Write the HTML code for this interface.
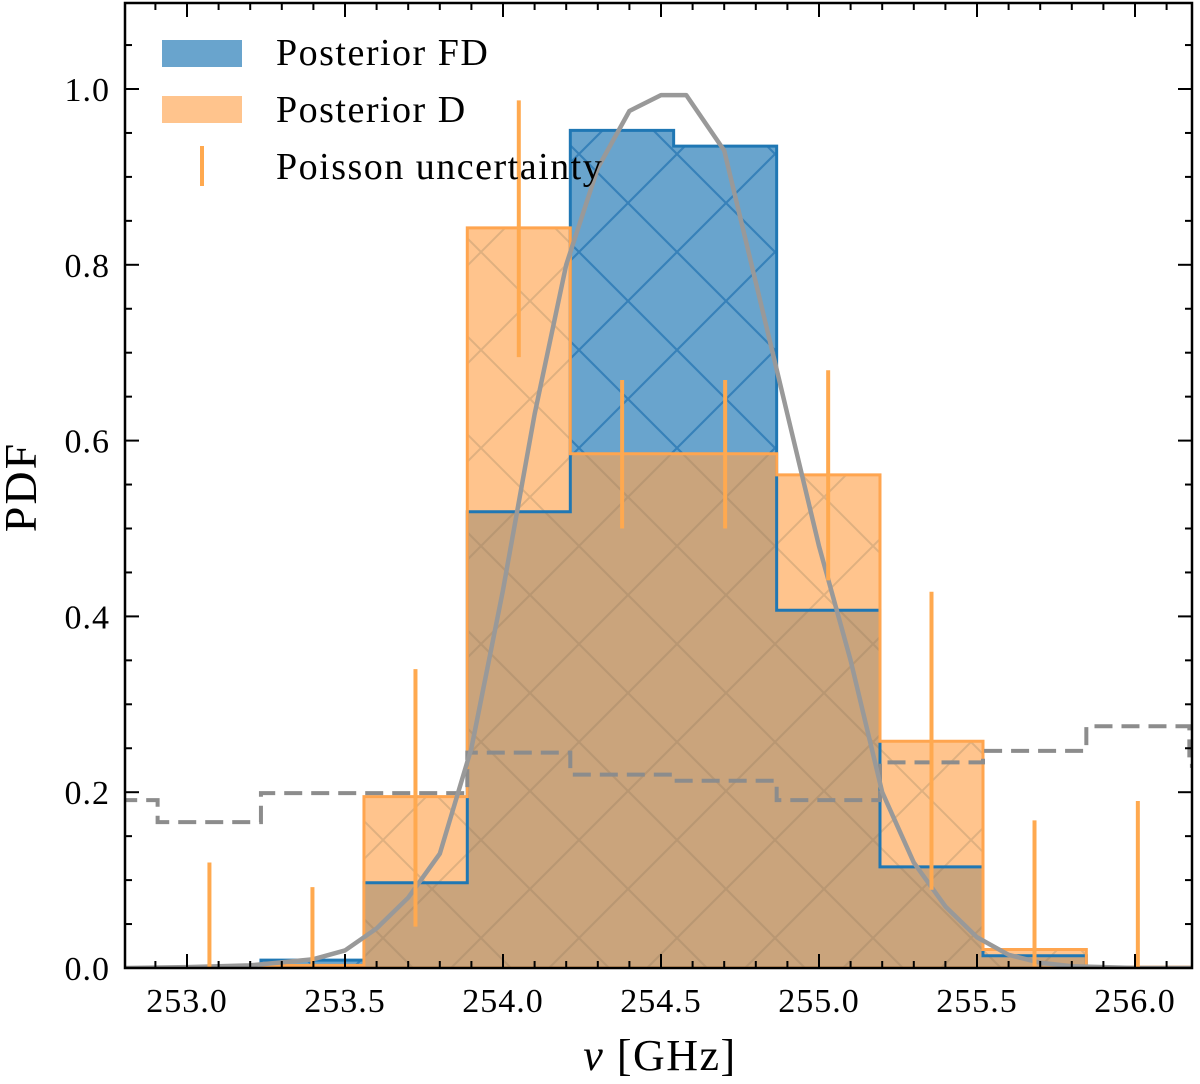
<!DOCTYPE html>
<html><head><meta charset="utf-8">
<style>
html,body{margin:0;padding:0;background:#fff;}
svg{display:block;}
text{font-family:"Liberation Serif","DejaVu Serif",serif;fill:#000;}
</style></head>
<body>
<svg id="chart" width="1200" height="1084" viewBox="0 0 1200 1084" xmlns="http://www.w3.org/2000/svg">
<defs>
<pattern id="hatchBlue" patternUnits="userSpaceOnUse" width="98" height="98" x="0" y="0" patternTransform="translate(40,7)">
<path d="M0,0 L98,98 M98,0 L0,98" stroke="#2a78b4" stroke-width="2.2" stroke-opacity="0.8"/>
</pattern>
<pattern id="hatchOrange" patternUnits="userSpaceOnUse" width="98" height="98" patternTransform="translate(40,7)">
<path d="M0,0 L98,98 M98,0 L0,98" stroke="#b89670" stroke-width="2" stroke-opacity="0.45"/>
</pattern>
<clipPath id="plotClip"><rect x="125" y="3" width="1067" height="965"/></clipPath>
</defs>
<g id="plot" clip-path="url(#plotClip)"></g>
<g id="axes"></g>
<g id="legend">
<rect x="162" y="40" width="80" height="27" fill="rgb(31,119,180)" fill-opacity="0.67"/>
<text x="276" y="65" font-size="38" letter-spacing="1.5">Posterior FD</text>
<rect x="162" y="96" width="80" height="27" fill="rgb(255,165,80)" fill-opacity="0.65"/>
<text x="276" y="122" font-size="38" letter-spacing="1.5">Posterior D</text>
<line x1="202" y1="146" x2="202" y2="186" stroke="#ffa94f" stroke-width="4"/>
<text x="276" y="179" font-size="38" letter-spacing="1.5">Poisson uncertainty</text>
</g>
<text x="660" y="1070" font-size="44" letter-spacing="1.5" text-anchor="middle"><tspan font-style="italic">ν</tspan> [GHz]</text>
<text transform="translate(36,487) rotate(-90)" font-size="46" letter-spacing="2" text-anchor="middle">PDF</text>
</svg>
<script>
// ---- data ----
const binEdges = [253.234, 253.560, 253.887, 254.213, 254.540, 254.866, 255.193, 255.519, 255.846, 256.172];
const fdValues = [0.009, 0.097, 0.519, 0.953, 0.935, 0.407, 0.115, 0.014, 0.0];
const dValues = [0.003, 0.195, 0.842, 0.585, 0.585, 0.561, 0.258, 0.021, 0.001];
const errCenters = [253.071, 253.397, 253.723, 254.050, 254.377, 254.703, 255.029, 255.356, 255.682, 256.009];
const errLow = [0.0, 0.0, 0.047, 0.695, 0.5, 0.5, 0.441, 0.089, 0.0, 0.0];
const errHigh = [0.12, 0.092, 0.34, 0.987, 0.669, 0.669, 0.68, 0.428, 0.168, 0.19];
const priorEdges = [252.7, 252.907, 253.234, 253.560, 253.887, 254.213, 254.540, 254.866, 255.193, 255.519, 255.846, 256.172, 256.5];
const priorValues = [0.191, 0.166, 0.199, 0.199, 0.245, 0.22, 0.213, 0.191, 0.234, 0.247, 0.275, 0.23];
const curveX = [252.8, 253.0, 253.2, 253.4, 253.5, 253.6, 253.7, 253.8, 253.9, 254.0, 254.1, 254.2, 254.3, 254.4, 254.5, 254.58, 254.7, 254.8, 254.9, 255.0, 255.1, 255.2, 255.3, 255.4, 255.5, 255.6, 255.7, 255.8, 256.0, 256.18];
const curveY = [0.0, 0.001, 0.003, 0.01, 0.02, 0.045, 0.08, 0.13, 0.25, 0.43, 0.63, 0.8, 0.91, 0.975, 0.993, 0.993, 0.93, 0.78, 0.63, 0.48, 0.35, 0.2, 0.12, 0.07, 0.035, 0.015, 0.006, 0.002, 0.0, 0.0];
const xTicks = [253.0, 253.5, 254.0, 254.5, 255.0, 255.5, 256.0];
const xTickLabels = ["253.0", "253.5", "254.0", "254.5", "255.0", "255.5", "256.0"];
const yTicks = [0, 0.2, 0.4, 0.6, 0.8, 1.0];
const yTickLabels = ["0.0", "0.2", "0.4", "0.6", "0.8", "1.0"];

// ---- axis functions ----
const X0 = 125, X1 = 1192, Y0 = 968, Y1 = 3;
function sx(v){ return 503 + (v - 254) * 316; }
function sy(p){ return 968 - p * 879; }
const NS = "http://www.w3.org/2000/svg";
const plot = document.getElementById('plot');
const axes = document.getElementById('axes');
function mk(tag, attrs, parent){ const e = document.createElementNS(NS, tag); for (const k in attrs) e.setAttribute(k, attrs[k]); parent.appendChild(e); return e; }

function stepPath(edges, vals, closed){
  let d = '';
  if (closed) d += 'M' + sx(edges[0]) + ',' + sy(0);
  for (let i = 0; i < vals.length; i++){
    d += (i === 0 && !closed ? 'M' : 'L') + sx(edges[i]) + ',' + sy(vals[i]);
    d += 'L' + sx(edges[i+1]) + ',' + sy(vals[i]);
  }
  if (closed) d += 'L' + sx(edges[edges.length-1]) + ',' + sy(0) + 'Z';
  return d;
}

let e;
e = mk('path', {d: stepPath(binEdges, fdValues, true), fill: 'rgb(31,119,180)', 'fill-opacity': 0.67}, plot);


e = mk('path', {d: stepPath(binEdges, fdValues, true), fill: 'url(#hatchBlue)'}, plot);


e = mk('path', {d: stepPath(binEdges, dValues, true), fill: 'rgb(255,165,80)', 'fill-opacity': 0.65}, plot);


e = mk('path', {d: stepPath(binEdges, dValues, true), fill: 'url(#hatchOrange)'}, plot);


e = mk('path', {d: stepPath(binEdges, fdValues, true), fill: 'none', stroke: '#1f77b4', 'stroke-width': 3}, plot);


e = mk('path', {d: stepPath(binEdges, dValues, true), fill: 'none', stroke: '#ffa54f', 'stroke-width': 3}, plot);


e = mk('path', {d: stepPath(priorEdges, priorValues, false), fill: 'none', stroke: '#8c8c8c', 'stroke-width': 4, 'stroke-dasharray': '18,9'}, plot);


let cd = '';
for (let i = 0; i < curveX.length; i++) cd += (i ? 'L' : 'M') + sx(curveX[i]) + ',' + sy(curveY[i]);
e = mk('path', {d: cd, fill: 'none', stroke: '#999', 'stroke-width': 4.5, 'stroke-linejoin': 'round'}, plot);


for (let i = 0; i < errCenters.length; i++){
  e = mk('line', {x1: sx(errCenters[i]), x2: sx(errCenters[i]), y1: sy(errLow[i]), y2: sy(errHigh[i]), stroke: '#ffa94f', 'stroke-width': 4}, plot);
  
  
}

e = mk('rect', {x: X0, y: Y1, width: X1 - X0, height: Y0 - Y1, fill: 'none', stroke: '#000', 'stroke-width': 2.5}, axes);


for (let v = 252.9; v <= 256.15; v += 0.1){
  const vv = Math.round(v * 10) / 10;
  const major = Math.abs(vv * 2 - Math.round(vv * 2)) < 1e-6;
  const L = major ? 14 : 7;
  const x = sx(vv);
  mk('line', {x1: x, x2: x, y1: Y0, y2: Y0 - L, stroke: '#000', 'stroke-width': 2}, axes);
  mk('line', {x1: x, x2: x, y1: Y1, y2: Y1 + L, stroke: '#000', 'stroke-width': 2}, axes);
}
for (let i = 0; i < xTicks.length; i++){
  e = mk('text', {x: sx(xTicks[i]), y: 1012, 'font-size': 34, 'letter-spacing': 1, 'text-anchor': 'middle'}, axes);
  e.textContent = xTickLabels[i];
  
  
}
for (let k = 0; k <= 21; k++){
  const p = k * 0.05;
  const major = k % 4 === 0;
  const L = major ? 14 : 7;
  const y = sy(p);
  mk('line', {x1: X0, x2: X0 + L, y1: y, y2: y, stroke: '#000', 'stroke-width': 2}, axes);
  mk('line', {x1: X1, x2: X1 - L, y1: y, y2: y, stroke: '#000', 'stroke-width': 2}, axes);
}
for (let i = 0; i < yTicks.length; i++){
  e = mk('text', {x: 110, y: sy(yTicks[i]) + 12, 'font-size': 34, 'letter-spacing': 1, 'text-anchor': 'end'}, axes);
  e.textContent = yTickLabels[i];
  
  
}
</script>
</body></html>
